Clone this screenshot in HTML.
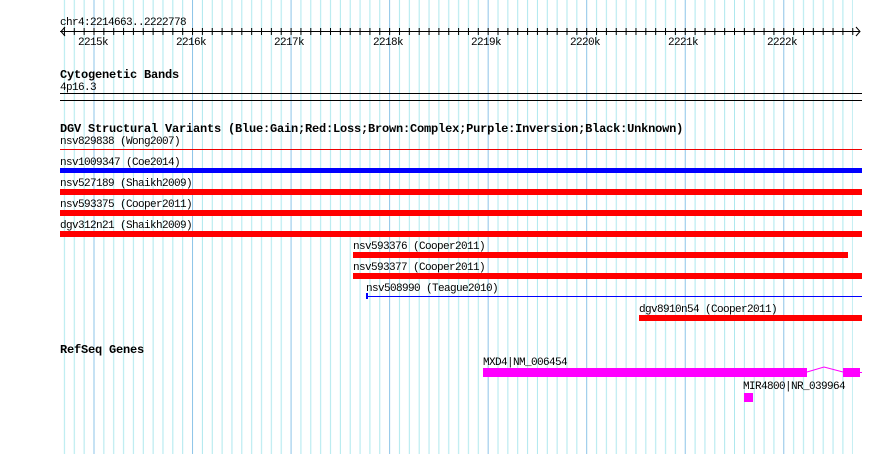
<!DOCTYPE html>
<html><head><style>
html,body{margin:0;padding:0;background:#fff;}
svg{display:block;}
text{font-family:"Liberation Mono",monospace;font-size:11px;letter-spacing:-0.6px;fill:#000;}
.b{font-weight:bold;font-size:12px;letter-spacing:-0.2px;}
</style></head><body>
<svg width="890" height="454" viewBox="0 0 890 454" xmlns="http://www.w3.org/2000/svg">
<defs>
<pattern id="g" patternUnits="userSpaceOnUse" x="93.5" y="0" width="98.54" height="454">
<rect x="0" y="0" width="1" height="454" fill="#8cc4e8"/>
<rect x="9.854" width="1" height="454" fill="#aee8ee"/>
<rect x="19.708" width="1" height="454" fill="#aee8ee"/>
<rect x="29.562" width="1" height="454" fill="#aee8ee"/>
<rect x="39.416" width="1" height="454" fill="#aee8ee"/>
<rect x="49.27" width="1" height="454" fill="#aee8ee"/>
<rect x="59.124" width="1" height="454" fill="#aee8ee"/>
<rect x="68.978" width="1" height="454" fill="#aee8ee"/>
<rect x="78.832" width="1" height="454" fill="#aee8ee"/>
<rect x="88.686" width="1" height="454" fill="#aee8ee"/>
</pattern>
<pattern id="t" patternUnits="userSpaceOnUse" x="93.5" y="27" width="9.854" height="9">
<rect x="0" y="1" width="1" height="7" fill="#000"/>
</pattern>
</defs>
<rect x="60" y="0" width="793" height="454" fill="url(#g)"/>
<text x="60" y="25">chr4:2214663..2222778</text>
<rect x="60" y="31" width="800" height="1" fill="#000"/>
<rect x="62" y="27" width="796" height="9" fill="url(#t)"/>
<path d="M65 27 L61 31.5 L65 36 M856 27 L860 31.5 L856 36" stroke="#000" fill="none"/>
<text x="78" y="45">2215k</text>
<text x="176" y="45">2216k</text>
<text x="274" y="45">2217k</text>
<text x="373" y="45">2218k</text>
<text x="471" y="45">2219k</text>
<text x="570" y="45">2220k</text>
<text x="668" y="45">2221k</text>
<text x="767" y="45">2222k</text>

<text class="b" x="60" y="78">Cytogenetic Bands</text>
<text x="60" y="90">4p16.3</text>
<rect x="60" y="93" width="802" height="1" fill="#000"/>
<rect x="60" y="100" width="802" height="1" fill="#000"/>

<text class="b" x="60" y="132">DGV Structural Variants (Blue:Gain;Red:Loss;Brown:Complex;Purple:Inversion;Black:Unknown)</text>
<text x="60" y="144">nsv829838 (Wong2007)</text>
<rect x="60" y="149" width="802" height="1" fill="#e00"/>
<text x="60" y="165">nsv1009347 (Coe2014)</text>
<rect x="60" y="168" width="802" height="5" fill="#00f"/>
<text x="60" y="186">nsv527189 (Shaikh2009)</text>
<rect x="60" y="189" width="802" height="6" fill="#f00"/>
<text x="60" y="207">nsv593375 (Cooper2011)</text>
<rect x="60" y="210" width="802" height="6" fill="#f00"/>
<text x="60" y="228">dgv312n21 (Shaikh2009)</text>
<rect x="60" y="231" width="802" height="6" fill="#f00"/>
<text x="353" y="249">nsv593376 (Cooper2011)</text>
<rect x="353" y="252" width="495" height="6" fill="#f00"/>
<text x="353" y="270">nsv593377 (Cooper2011)</text>
<rect x="353" y="273" width="509" height="6" fill="#f00"/>
<text x="366" y="291">nsv508990 (Teague2010)</text>
<rect x="367" y="296" width="495" height="1" fill="#00f"/>
<rect x="366" y="293" width="2" height="6" fill="#00f"/>
<text x="639" y="312">dgv8910n54 (Cooper2011)</text>
<rect x="639" y="315" width="223" height="6" fill="#f00"/>

<text class="b" x="60" y="353">RefSeq Genes</text>
<text x="483" y="365">MXD4|NM_006454</text>
<rect x="483" y="368" width="324" height="9" fill="#f0f"/>
<polyline points="807,372 824,367 843,372" fill="none" stroke="#f0f" stroke-width="1"/>
<rect x="843" y="368" width="17" height="9" fill="#f0f"/>
<rect x="860" y="372" width="2" height="1" fill="#f0f"/>
<text x="743" y="389">MIR4800|NR_039964</text>
<rect x="744" y="393" width="9" height="9" fill="#f0f"/>
</svg>
</body></html>
